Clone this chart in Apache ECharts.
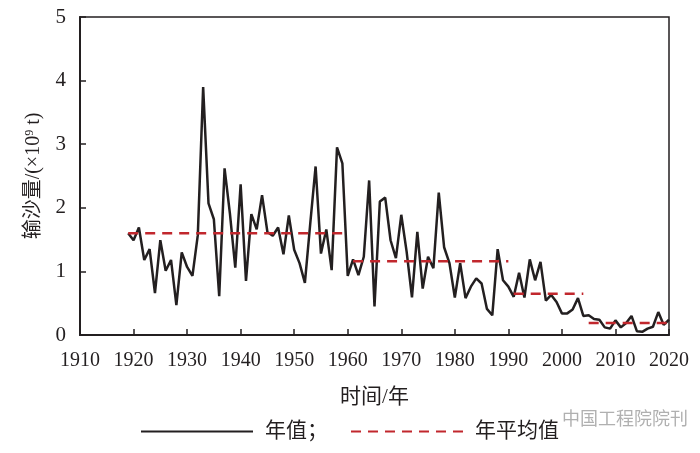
<!DOCTYPE html>
<html><head><meta charset="utf-8">
<script src="https://cdn.jsdelivr.net/npm/echarts@6/dist/echarts.min.js"></script>
<style>html,body{margin:0;padding:0;background:#fff}#c{width:700px;height:453px}</style>
</head><body><div id="c"></div>
<script>
const years = [];
for (let y = 1919; y <= 2020; y++) years.push(y);
const annualValues = [
 1.60,1.49,1.69,1.18,1.35,0.66,1.49,1.01,1.18,0.47,
 1.30,1.07,0.93,1.57,3.90,2.07,1.82,0.61,2.62,1.91,
 1.06,2.37,0.85,1.90,1.66,2.20,1.62,1.56,1.69,1.27,
 1.88,1.34,1.13,0.82,1.75,2.65,1.28,1.66,1.02,2.95,
 2.70,0.93,1.19,0.94,1.23,2.43,0.45,2.10,2.16,1.49,
 1.21,1.89,1.31,0.59,1.62,0.73,1.23,1.05,2.24,1.38,
 1.13,0.59,1.13,0.58,0.76,0.89,0.81,0.41,0.31,1.35,
 0.86,0.76,0.60,0.98,0.59,1.19,0.86,1.15,0.54,0.63,
 0.52,0.34,0.34,0.40,0.58,0.30,0.31,0.25,0.24,0.12,
 0.10,0.23,0.12,0.19,0.30,0.06,0.05,0.10,0.13,0.36,
 0.16,0.24
];
const meanStart = [1919, 1961, 1991, 2005];
const meanEnd = [1959, 1990, 2004, 2020];
const meanValue = [1.60, 1.16, 0.65, 0.19];
const xTicks = [1910,1920,1930,1940,1950,1960,1970,1980,1990,2000,2010,2020];
const seriesNames = ['年值；', '年平均值'];

const annualData = years.map((y, i) => [y, annualValues[i]]);
const meanData = [];
meanStart.forEach((s, i) => {
  if (i > 0) meanData.push([s - 0.5, '-']);
  meanData.push([s, meanValue[i]]);
  meanData.push([meanEnd[i], meanValue[i]]);
});

const serif = '"Liberation Serif", "Noto Sans CJK SC", serif';
const ink = '#231f20';
const red = '#c1272d';
const chart = echarts.init(document.getElementById('c'), null, {renderer: 'canvas'});
chart.setOption({
  animation: false,
  backgroundColor: '#fff',
  textStyle: {fontFamily: serif},
  grid: {left: 80, right: 31, top: 17, bottom: 118, show: true, borderColor: ink, borderWidth: 1.5},
  xAxis: {
    type: 'value', min: 1910, max: 2020, interval: 10,
    name: '时间/年', nameLocation: 'middle', nameGap: 52,
    nameTextStyle: {fontSize: 21, color: ink, fontFamily: serif},
    axisLine: {show: true, lineStyle: {color: ink, width: 2}},
    axisTick: {show: true, inside: true, length: 6, lineStyle: {color: ink, width: 1.5}},
    axisLabel: {fontSize: 20, color: ink, margin: 16, fontFamily: serif,
      formatter: v => xTicks.includes(v) ? String(v) : ''},
    splitLine: {show: false}
  },
  yAxis: {
    type: 'value', min: 0, max: 5, interval: 1,
    name: '{a|输沙量/(×10}{s|9}{a| t)}', nameLocation: 'middle', nameGap: 36,
    nameTextStyle: {rich: {
      a: {fontSize: 20, color: ink, fontFamily: serif},
      s: {fontSize: 12, color: ink, fontFamily: serif, verticalAlign: 'top', padding: [0, 0, 8, 0]}
    }},
    axisLine: {show: true, lineStyle: {color: ink, width: 2}},
    axisTick: {show: true, inside: true, length: 6, lineStyle: {color: ink, width: 1.5}},
    axisLabel: {fontSize: 21, color: ink, margin: 14, fontFamily: serif},
    splitLine: {show: false}
  },
  legend: {
    left: 135, top: 416, itemWidth: 112, itemHeight: 14, itemGap: 22,
    textStyle: {fontSize: 21, color: ink, fontFamily: serif, padding: [0, 0, 0, 7]},
    itemStyle: {opacity: 0},
    data: seriesNames
  },
  series: [
    {name: seriesNames[0], type: 'line', data: annualData, symbol: 'none',
     lineStyle: {color: ink, width: 2.5}, itemStyle: {color: ink}, z: 2},
    {name: seriesNames[1], type: 'line', data: meanData, symbol: 'none', connectNulls: false,
     lineStyle: {color: red, width: 2.5, type: [10, 7]}, itemStyle: {color: red}, z: 3}
  ],
  graphic: [{
    type: 'text', left: 562, top: 409,
    style: {text: '中国工程院院刊', fontSize: 18, fill: 'rgba(150,150,150,0.75)', fontFamily: '"Noto Sans CJK SC", sans-serif'}
  }]
});
</script></body></html>
